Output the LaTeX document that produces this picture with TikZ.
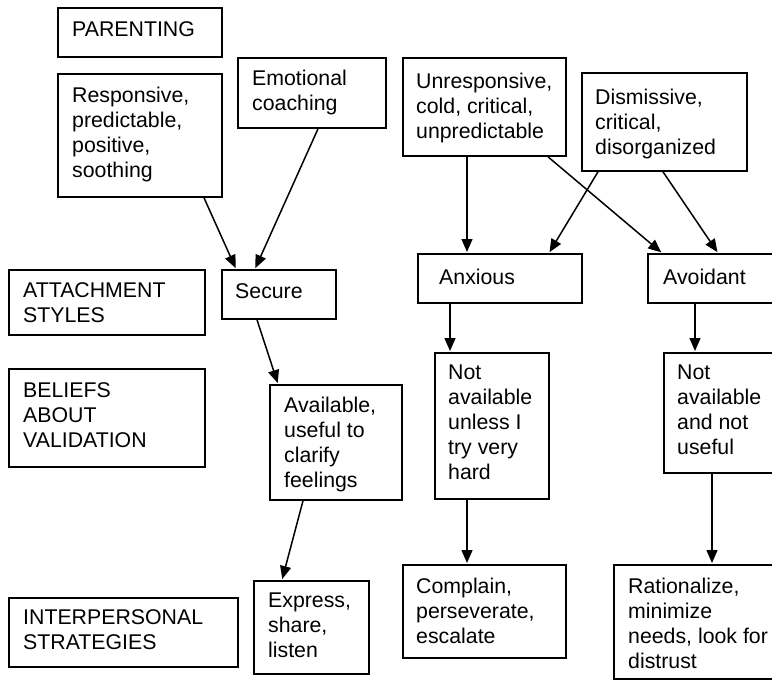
\documentclass[tikz,border=0pt]{standalone}
\usepackage{fontspec}
\setmainfont{Liberation Sans}
\usetikzlibrary{arrows.meta}
\begin{document}
\begin{tikzpicture}[x=1pt,y=-1pt,
  box/.style={draw,line width=1.8pt,inner sep=0pt,anchor=north west},
  lbl/.style={inner sep=0pt,anchor=north west,align=left,
    font=\fontsize{21.3}{25}\selectfont},
  conn/.style={line width=1.5pt,-{Triangle[length=13pt,width=11pt]},shorten >=1pt}]
\clip (0,0) rectangle (772,681);
\fill[white] (0,0) rectangle (772,681);

% row labels
\node[box,minimum width=164,minimum height=49] (par) at (57,7) {};
\node[lbl] at ([shift={(15,14)}]par.north west) {PARENTING};
\node[box,minimum width=196,minimum height=65] (att) at (8,269) {};
\node[lbl] at ([shift={(15,13)}]att.north west) {ATTACHMENT\\STYLES};
\node[box,minimum width=196,minimum height=98] (bel) at (8,368) {};
\node[lbl] at ([shift={(15,14)}]bel.north west) {BELIEFS\\ABOUT\\VALIDATION};
\node[box,minimum width=229,minimum height=69] (inter) at (8,597) {};
\node[lbl] at ([shift={(15,12)}]inter.north west) {INTERPERSONAL\\STRATEGIES};

% parenting
\node[box,minimum width=164,minimum height=123] (resp) at (57,73) {};
\node[lbl] at ([shift={(15,14)}]resp.north west) {Responsive,\\predictable,\\positive,\\soothing};
\node[box,minimum width=148,minimum height=70] (emo) at (237,57) {};
\node[lbl] at ([shift={(15,13)}]emo.north west) {Emotional\\coaching};
\node[box,minimum width=163,minimum height=98] (unresp) at (402,57) {};
\node[lbl] at ([shift={(14,16)}]unresp.north west) {Unresponsive,\\cold, critical,\\unpredictable};
\node[box,minimum width=165,minimum height=98] (dism) at (581,72) {};
\node[lbl] at ([shift={(14,17)}]dism.north west) {Dismissive,\\critical,\\disorganized};

% attachment styles
\node[box,minimum width=114,minimum height=49] (secure) at (221,269) {};
\node[lbl] at ([shift={(14,14)}]secure.north west) {Secure};
\node[box,minimum width=164,minimum height=49] (anx) at (417,253) {};
\node[lbl] at ([shift={(22,16)}]anx.north west) {Anxious};
\node[box,minimum width=150,minimum height=49] (avoid) at (647,253) {};
\node[lbl] at ([shift={(16,16)}]avoid.north west) {Avoidant};

% beliefs about validation
\node[box,minimum width=132,minimum height=115] (avail) at (269,384) {};
\node[lbl] at ([shift={(15,13)}]avail.north west) {Available,\\useful to\\clarify\\feelings};
\node[box,minimum width=114,minimum height=146] (notu) at (434,352) {};
\node[lbl] at ([shift={(14,13)}]notu.north west) {Not\\available\\unless I\\try very\\hard};
\node[box,minimum width=130,minimum height=120] (notn) at (663,352) {};
\node[lbl] at ([shift={(14,13)}]notn.north west) {Not\\available\\and not\\useful};

% interpersonal strategies
\node[box,minimum width=115,minimum height=93] (express) at (253,580) {};
\node[lbl] at ([shift={(15,13)}]express.north west) {Express,\\share,\\listen};
\node[box,minimum width=163,minimum height=93] (compl) at (402,564) {};
\node[lbl] at ([shift={(14,14)}]compl.north west) {Complain,\\perseverate,\\escalate};
\node[box,minimum width=180,minimum height=114] (ration) at (613,564) {};
\node[lbl] at ([shift={(15,14)}]ration.north west) {Rationalize,\\minimize\\needs, look for\\distrust};

% connectors
\draw[conn] ([xshift=147]resp.south west) -- ([xshift=15]secure.north west);
\draw[conn] ([xshift=81]emo.south west) -- ([xshift=34]secure.north west);
\draw[conn] ([xshift=36]secure.south west) -- ([xshift=9]avail.north west);
\draw[conn] ([xshift=34]avail.south west) -- ([xshift=29]express.north west);
\draw[conn] ([xshift=65]unresp.south west) -- ([xshift=50]anx.north west);
\draw[conn] ([xshift=146]unresp.south west) -- ([xshift=15]avoid.north west);
\draw[conn] ([xshift=17]dism.south west) -- ([xshift=132]anx.north west);
\draw[conn] ([xshift=82]dism.south west) -- ([xshift=71]avoid.north west);
\draw[conn] ([xshift=33]anx.south west) -- ([xshift=16]notu.north west);
\draw[conn] ([xshift=48]avoid.south west) -- ([xshift=32]notn.north west);
\draw[conn] ([xshift=33]notu.south west) -- ([xshift=65]compl.north west);
\draw[conn] ([xshift=49]notn.south west) -- ([xshift=99]ration.north west);
\end{tikzpicture}
\end{document}
